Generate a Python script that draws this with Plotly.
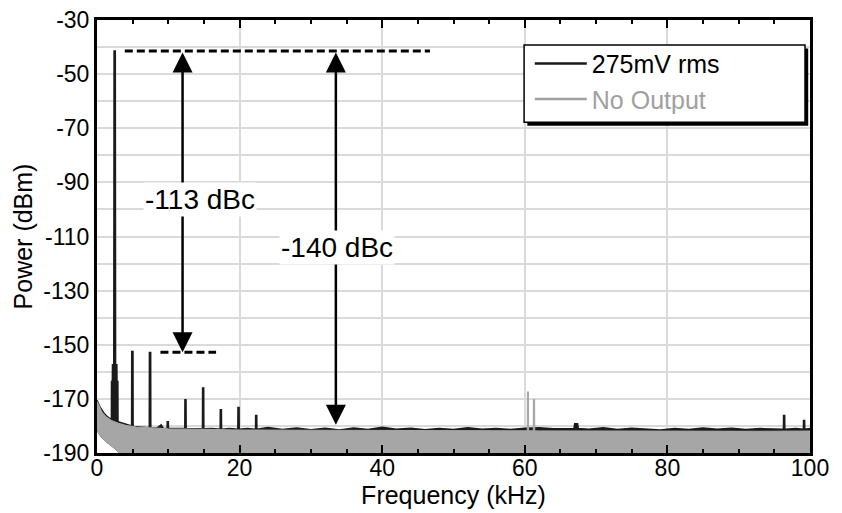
import plotly.graph_objects as go

# ---------------- data ----------------
# 275 mV rms output: spectrum trace (kHz, dBm)
sig_freq = [0.0, 0.4, 0.9, 1.4, 1.9,
            2.02, 2.04, 2.16, 2.18, 2.36, 2.40, 2.56, 2.60, 2.78, 2.80, 2.92, 2.94,
            3.6, 4.3,
            4.86, 4.88, 5.04, 5.06,
            6.0, 6.8,
            7.34, 7.36, 7.52, 7.54,
            8.4, 9.0, 9.3,
            9.84, 9.86, 10.0, 10.02,
            11.2,
            12.32, 12.34, 12.48, 12.50,
            13.6,
            14.80, 14.82, 14.96, 14.98,
            16.1,
            17.28, 17.30, 17.44, 17.46,
            18.6,
            19.76, 19.78, 19.92, 19.94,
            21.1,
            22.24, 22.26, 22.40, 22.42,
            24, 26, 28, 30, 32, 34, 36, 38, 40, 42, 44, 46, 48, 50, 52, 54, 56, 58, 60, 62, 64,
            66.9, 67.0, 67.4, 67.5,
            69, 71, 73, 75, 77, 79, 81, 83, 85, 87, 89, 91, 93, 95,
            96.28, 96.30, 96.44, 96.46,
            98, 99.08, 99.10, 99.24, 99.26, 100]
sig_dbm = [-170.5, -173, -175, -176.5, -177.5,
           -177.5, -163.6, -163.6, -157.4, -157.4, -41.5, -41.5, -157.4, -157.4, -163.6, -163.6, -178.5,
           -179, -179.8,
           -180, -152.5, -152.5, -180.2,
           -180.4, -180.6,
           -180.7, -152.9, -152.9, -180.8,
           -180.8, -179.6, -180.9,
           -181, -178.5, -178.5, -181,
           -181,
           -181, -170.3, -170.3, -181,
           -181.1,
           -181.1, -166, -166, -181.1,
           -181,
           -181.2, -174, -174, -181.2,
           -181,
           -181.2, -173.2, -173.2, -181.2,
           -181,
           -181.2, -176.2, -176.2, -181.2,
           -180.6, -181.3, -180.8, -181.4, -180.9, -181.5, -180.8, -181.3, -180.5, -181.2,
           -180.9, -181.4, -181.0, -181.3, -180.7, -181.2, -181.0, -181.3, -180.9, -180.7, -181.1,
           -181, -179.2, -179.2, -181,
           -181.2, -180.7, -181.3, -180.9, -181.2, -181.5, -181.0, -181.3, -180.8, -181.2,
           -180.9, -181.3, -181.0, -181.2,
           -181.2, -176.2, -176.2, -181.2,
           -181.0, -181.2, -178, -178, -181.2, -181.0]

# No output: upper edge of the noise band (kHz, dBm)
off_freq = [0, 0.3, 0.7, 1.2, 2, 3, 4, 5.5, 7.5, 10, 15, 20, 30, 40, 50,
            60.36, 60.38, 60.50, 60.52,
            61.20, 61.22, 61.36, 61.38,
            70, 80, 90, 100]
off_dbm = [-171, -173, -175, -176.5, -178, -179, -179.8, -180.4, -180.8, -181.1, -181.3,
           -181.5, -181.6, -181.7, -181.8,
           -181.8, -167.5, -167.5, -181.8,
           -181.8, -170.3, -170.3, -181.8,
           -181.9, -182.0, -182.0, -181.9]

# lower edge of the noise band (kHz, dBm)
low_freq = [0, 0.5, 1.5, 2.5, 3.3, 100]
low_dbm = [-182, -184, -186.5, -188.5, -190.5, -190.5]

x_ticks = [0, 20, 40, 60, 80, 100]
y_ticks = [-30, -50, -70, -90, -110, -130, -150, -170, -190]

carrier_dbm = -41.5      # fundamental level
harmonic_dbm = -152.8    # highest harmonic level
floor_dbm = -179.6       # noise floor level

series_names = ["275mV rms", "No Output"]
label_113 = "-113 dBc"
label_140 = "-140 dBc"

# ---------------- styling ----------------
FONT = "Liberation Sans, Arial, sans-serif"
BLACK = "#1a1a1a"
GREY = "#a6a6a6"
GRID = "#dadada"

fig = go.Figure()

# baseline for the black spectrum fill
fig.add_trace(go.Scatter(x=low_freq, y=low_dbm, mode="lines",
                         line=dict(width=0, color="rgba(0,0,0,0)"),
                         showlegend=False, hoverinfo="skip"))
fig.add_trace(go.Scatter(x=sig_freq, y=sig_dbm, mode="lines", name=series_names[0],
                         line=dict(color=BLACK, width=1.6), fill="tonexty",
                         fillcolor=BLACK, showlegend=False))
# grey noise band on top
fig.add_trace(go.Scatter(x=low_freq, y=low_dbm, mode="lines",
                         line=dict(width=0, color="rgba(0,0,0,0)"),
                         showlegend=False, hoverinfo="skip"))
fig.add_trace(go.Scatter(x=off_freq, y=off_dbm, mode="lines", name=series_names[1],
                         line=dict(color=GREY, width=1.2), fill="tonexty",
                         fillcolor=GREY, showlegend=False))

# legend entries
fig.add_trace(go.Scatter(x=[None], y=[None], mode="lines", name=series_names[0],
                         line=dict(color=BLACK, width=2.5)))
fig.add_trace(go.Scatter(x=[None], y=[None], mode="lines",
                         name="<span style='color:#a0a0a0'>" + series_names[1] + "</span>",
                         line=dict(color="#a0a0a0", width=2.5)))

# dashed reference lines
fig.add_shape(type="line", xref="x", yref="y", x0=3.9, x1=46.7, y0=carrier_dbm, y1=carrier_dbm,
              line=dict(color="black", width=3, dash="8px,4px"))
fig.add_shape(type="line", xref="x", yref="y", x0=8.9, x1=16.7, y0=harmonic_dbm, y1=harmonic_dbm,
              line=dict(color="black", width=3, dash="8px,4px"))

# legend box with shadow
lx0, lx1, ly0, ly1 = 0.599, 0.993, 0.764, 0.942
fig.add_shape(type="rect", xref="paper", yref="paper", x0=lx0 + 0.0045, x1=lx1 + 0.0045,
              y0=ly0 - 0.008, y1=ly1 - 0.008, line=dict(width=0), fillcolor="black", layer="above")
fig.add_shape(type="rect", xref="paper", yref="paper", x0=lx0, x1=lx1, y0=ly0, y1=ly1,
              line=dict(width=1.5, color="black"), fillcolor="white", layer="above")

# double-headed arrows
for xa, ybot in [(12.0, harmonic_dbm), (33.5, floor_dbm)]:
    fig.add_annotation(x=xa, y=ybot, ax=xa, ay=carrier_dbm, xref="x", yref="y",
                       axref="x", ayref="y", text="", showarrow=True,
                       arrowhead=2, startarrowhead=2, arrowside="end+start",
                       arrowsize=1.6, startarrowsize=1.6, arrowwidth=2.5,
                       arrowcolor="black", standoff=0, startstandoff=0)

fig.add_annotation(x=14.4, y=-96.5, xref="x", yref="y", text=label_113, showarrow=False,
                   font=dict(family=FONT, size=28, color="black"), bgcolor="white", borderpad=1)
fig.add_annotation(x=33.6, y=-114.2, xref="x", yref="y", text=label_140, showarrow=False,
                   font=dict(family=FONT, size=28, color="black"), bgcolor="white", borderpad=1)

# the page body adds an 8 px offset, so the figure is sized to fit the window
fig.update_layout(
    width=834, height=505,
    margin=dict(l=89, r=32, t=12, b=60),
    paper_bgcolor="white", plot_bgcolor="white",
    font=dict(family=FONT, size=23, color="black"),
    showlegend=True,
    legend=dict(x=0.607, y=0.952, xanchor="left", yanchor="top",
                bgcolor="rgba(0,0,0,0)", borderwidth=0, traceorder="normal",
                font=dict(family=FONT, size=25, color="black"),
                itemwidth=52, tracegroupgap=0),
)

fig.update_xaxes(
    range=[0, 100], tickvals=x_ticks, ticktext=[str(v) for v in x_ticks],
    showline=True, linewidth=3, linecolor="black", mirror="allticks",
    ticks="inside", ticklen=8, tickwidth=2, tickcolor="black",
    showgrid=True, gridcolor=GRID, gridwidth=1.5, zeroline=False, automargin=False,
    ticklabelstandoff=-8, ticklabeloverflow="allow",
    minor=dict(dtick=5, ticks="inside", ticklen=4, tickwidth=2, tickcolor="black", showgrid=False),
    title=dict(text="Frequency (kHz)", font=dict(family=FONT, size=25), standoff=0),
    tickfont=dict(family=FONT, size=23),
)
fig.update_yaxes(
    range=[-190, -30], tickvals=y_ticks, ticktext=[str(v) for v in y_ticks],
    showline=True, linewidth=3, linecolor="black", mirror=True,
    ticks="", showgrid=True, gridcolor=GRID, gridwidth=1.5, zeroline=False, automargin=False,
    ticklabeloverflow="allow",
    minor=dict(dtick=10, tick0=-30, showgrid=True, gridcolor=GRID, gridwidth=1.5, ticks=""),
    title=dict(text="Power (dBm)", font=dict(family=FONT, size=25), standoff=4),
    tickfont=dict(family=FONT, size=23),
)

fig.write_html("out.html")
